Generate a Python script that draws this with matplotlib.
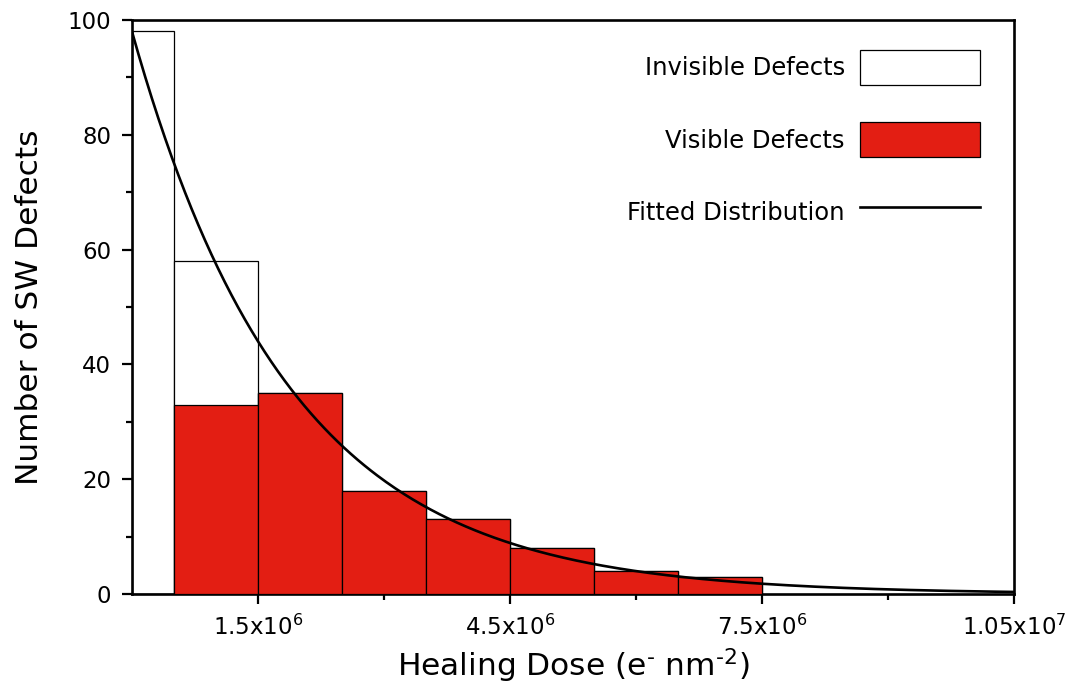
import numpy as np
import matplotlib.pyplot as plt
from matplotlib.patches import Patch
from matplotlib.lines import Line2D
from matplotlib.ticker import FixedLocator

# histogram bins (healing dose, e- nm^-2)
bin_edges = [0, 0.5e6, 1.5e6, 2.5e6, 3.5e6, 4.5e6, 5.5e6, 6.5e6, 7.5e6]
invisible_counts = [98, 58, 35, 18, 13, 8, 4, 3]
visible_counts = [0, 33, 35, 18, 13, 8, 4, 3]

# fitted exponential distribution
fit_amplitude = 98
fit_scale = 1.875e6

x_ticks = [1.5e6, 4.5e6, 7.5e6, 1.05e7]
x_tick_labels = [r'1.5x10$^{6}$', r'4.5x10$^{6}$', r'7.5x10$^{6}$', r'1.05x10$^{7}$']
y_ticks = [0, 20, 40, 60, 80, 100]

red = '#e31e13'

fig = plt.figure(figsize=(10.79, 6.9), dpi=100)
ax = fig.add_axes([0.1223, 0.1391, 0.8174, 0.8319])

lefts = np.array(bin_edges[:-1])
widths = np.diff(bin_edges)

ax.bar(lefts, invisible_counts, width=widths, align='edge',
       color='white', edgecolor='black', linewidth=0.9, zorder=2)
ax.bar(lefts, visible_counts, width=widths, align='edge',
       color=red, edgecolor='black', linewidth=0.9, zorder=3)

xs = np.linspace(0, 1.05e7, 400)
ax.plot(xs, fit_amplitude * np.exp(-xs / fit_scale), color='black', lw=1.9, zorder=4)

ax.set_xlim(0, 1.05e7)
ax.set_ylim(0, 100)
ax.set_xticks(x_ticks)
ax.set_xticklabels(x_tick_labels)
ax.xaxis.set_minor_locator(FixedLocator([3e6, 6e6, 9e6]))
ax.set_yticks(y_ticks)
ax.yaxis.set_minor_locator(FixedLocator([10, 30, 50, 70, 90]))

ax.tick_params(which='major', direction='out', length=7, width=1.6,
               labelsize=16.5, pad=8)
ax.tick_params(which='minor', direction='out', length=4.5, width=1.6)
for s in ax.spines.values():
    s.set_linewidth(1.9)

ax.set_xlabel(r'Healing Dose (e$^{\text{-}}$ nm$^{\text{-2}}$)', fontsize=22.5, labelpad=5)
ax.set_ylabel('Number of SW Defects', fontsize=22.5, labelpad=17)

handles = [Patch(facecolor='white', edgecolor='black', linewidth=0.9),
           Patch(facecolor=red, edgecolor='black', linewidth=0.9),
           Line2D([], [], color='black', lw=1.9)]
labels = ['Invisible Defects', 'Visible Defects', 'Fitted Distribution']
ax.legend(handles, labels, loc='upper right', bbox_to_anchor=(0.9615, 0.948),
          frameon=False, markerfirst=False, fontsize=17.5, handlelength=4.94,
          handleheight=1.86, labelspacing=1.52, handletextpad=0.62,
          borderpad=0, borderaxespad=0)

fig.savefig('out.png', dpi=100)
